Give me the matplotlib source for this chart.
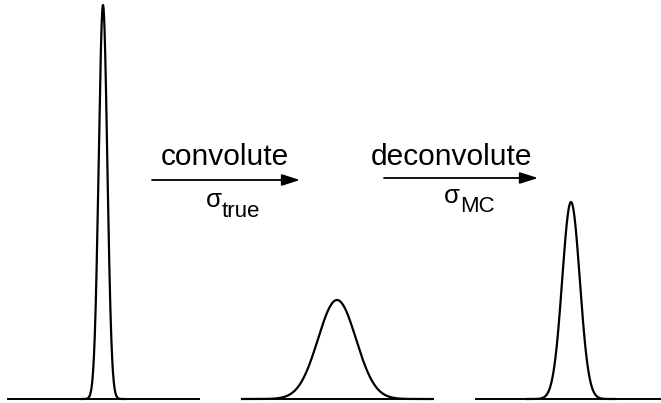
import numpy as np
import matplotlib
matplotlib.use("Agg")
import matplotlib.pyplot as plt

plt.rcParams['font.family'] = ['Liberation Sans', 'DejaVu Sans']

# peaks (pixel-like units: x to the right, y up from bottom)
peak_centers = [103, 337, 571]
peak_heights = [394, 99, 197]
peak_sigmas = [4.3, 19.0, 8.8]
base_left = [8, 242, 476]
base_right = [199, 433, 661]
base_y = 4

# arrows and their labels
arrow_x0 = [152, 384]
arrow_x1 = [300, 538]
arrow_y = [223, 225]
top_labels = ['convolute', 'deconvolute']
sigma_subs = ['true', 'MC']

# label positions
top_x = [225, 452]
top_y = [238, 238]
sub_x = [222, 460]
sigma_y = [196, 200]
sub_y = [186, 191]

fig = plt.figure(figsize=(6.61, 4.03), dpi=100)
ax = fig.add_axes([0, 0, 1, 1])
ax.set_xlim(0, 661)
ax.set_ylim(0, 403)
ax.axis('off')

for i in range(3):
    ax.plot([base_left[i], base_right[i]], [base_y, base_y], color='black', lw=1.4)
    x0 = max(base_left[i], peak_centers[i] - 5 * peak_sigmas[i])
    x1 = min(base_right[i], peak_centers[i] + 5 * peak_sigmas[i])
    x = np.linspace(x0, x1, 400)
    y = base_y + peak_heights[i] * np.exp(-0.5 * ((x - peak_centers[i]) / peak_sigmas[i]) ** 2)
    ax.plot(x, y, color='black', lw=1.6)

for i in range(2):
    ax.annotate('', xy=(arrow_x1[i], arrow_y[i]), xytext=(arrow_x0[i], arrow_y[i]),
                arrowprops=dict(arrowstyle='-|>,head_length=1.1,head_width=0.35', color='black', lw=1.3,
                                shrinkA=0, shrinkB=0))
    ax.text(top_x[i], top_y[i], top_labels[i], ha='center', va='baseline', fontsize=21.5)
    ax.text(sub_x[i], sigma_y[i], '\u03c3', ha='right', va='baseline', fontsize=18.5)
    ax.text(sub_x[i], sub_y[i], sigma_subs[i], ha='left', va='baseline', fontsize=16)

fig.savefig('out.png', dpi=100)
